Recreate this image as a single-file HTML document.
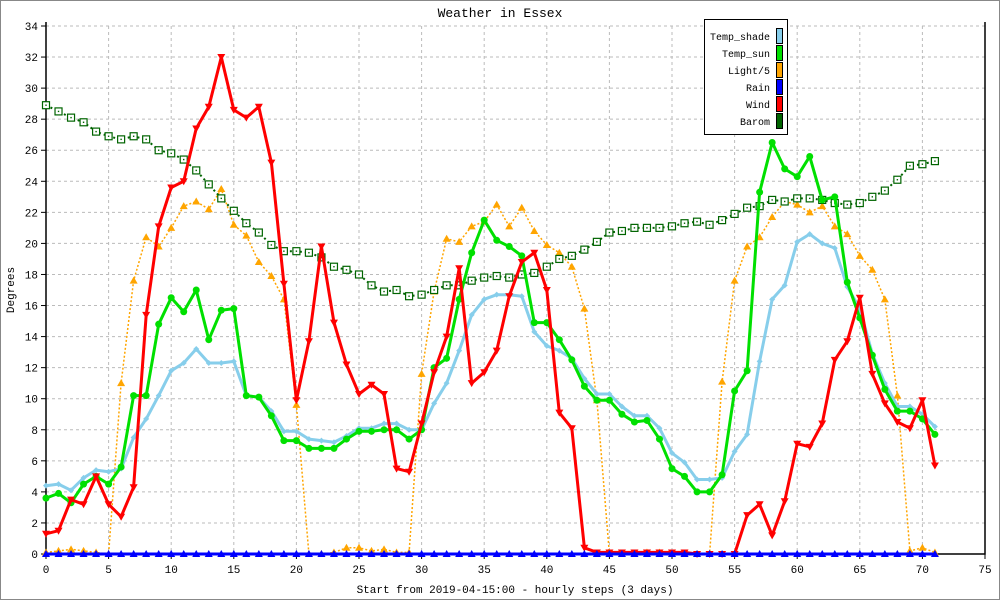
<!DOCTYPE html>
<html><head><meta charset="utf-8"><style>
html,body{margin:0;padding:0;background:#fff}
svg{display:block;font-family:"Liberation Mono",monospace}
</style></head><body>
<svg id="chart" width="1000" height="600" viewBox="0 0 1000 600">
<rect x="0.5" y="0.5" width="999" height="599" fill="#fff" stroke="#888"/>
<text x="500" y="17" text-anchor="middle" font-size="13">Weather in Essex</text>
<g id="grid"></g>
<g id="axes"></g>
<g id="series"></g>
<text x="14" y="290" text-anchor="middle" font-size="11" transform="rotate(-90 14 290)">Degrees</text>
<text x="515" y="593" text-anchor="middle" font-size="11">Start from 2019-04-15:00 - hourly steps (3 days)</text>
<g id="legend"></g>
</svg>
<script>
const xTicks=[0,5,10,15,20,25,30,35,40,45,50,55,60,65,70,75];
const yTicks=[0,2,4,6,8,10,12,14,16,18,20,22,24,26,28,30,32,34];
const tempShade=[4.4,4.5,4.1,4.9,5.4,5.3,5.5,7.5,8.7,10.2,11.8,12.3,13.2,12.3,12.3,12.4,10.2,10.1,9.2,7.9,7.9,7.4,7.3,7.2,7.6,8.1,8.1,8.4,8.4,8.0,8.0,9.7,11.0,13.1,15.4,16.4,16.7,16.7,16.6,14.3,13.4,13.1,12.6,11.3,10.3,10.3,9.5,8.9,8.9,8.1,6.5,5.9,4.8,4.8,4.9,6.6,7.7,12.4,16.4,17.3,20.1,20.6,20.0,19.7,17.2,15.8,12.9,11.0,9.5,9.5,9.0,8.2];
const tempSun=[3.6,3.9,3.3,4.5,5.0,4.5,5.6,10.2,10.2,14.8,16.5,15.6,17.0,13.8,15.7,15.8,10.2,10.1,8.9,7.3,7.3,6.8,6.8,6.8,7.4,7.9,7.9,8.0,8.0,7.4,8.0,12.0,12.6,16.4,19.4,21.5,20.2,19.8,19.2,14.9,14.9,13.8,12.5,10.8,9.9,9.9,9.0,8.5,8.6,7.4,5.5,5.0,4.0,4.0,5.1,10.5,11.8,23.3,26.5,24.8,24.3,25.6,22.8,23.0,17.5,15.2,12.8,10.6,9.2,9.2,8.7,7.7];
const light=[0.1,0.2,0.3,0.2,0.1,0,11.0,17.6,20.4,19.8,21.0,22.4,22.7,22.2,23.5,21.2,20.5,18.8,17.9,16.4,9.6,0,0,0.1,0.4,0.4,0.2,0.3,0.1,0.1,11.6,16.9,20.3,20.1,21.1,21.4,22.5,21.1,22.3,20.8,19.9,19.4,18.5,15.8,9.9,0,0,0,0.1,0.1,0,0,0,0,11.1,17.6,19.8,20.4,21.7,22.7,22.5,22.0,22.4,21.1,20.6,19.2,18.3,16.4,10.2,0.2,0.4,0.1];
const rain=new Array(72).fill(0);
const wind=[1.3,1.5,3.5,3.2,5.0,3.2,2.4,4.3,15.4,21.1,23.6,24.0,27.4,28.8,32.0,28.6,28.1,28.8,25.2,17.4,9.9,13.7,19.8,14.9,12.2,10.3,10.9,10.3,5.5,5.3,8.4,11.7,14.0,18.4,11.0,11.7,13.1,16.6,18.8,19.4,17.0,9.1,8.1,0.4,0.1,0.1,0.1,0.1,0.1,0.1,0.1,0.1,0,0,0,0,2.5,3.2,1.2,3.4,7.1,6.9,8.4,12.5,13.7,16.5,11.6,9.7,8.5,8.1,9.9,5.7];
const barom=[28.9,28.5,28.1,27.8,27.2,26.9,26.7,26.9,26.7,26.0,25.8,25.4,24.7,23.8,22.9,22.1,21.3,20.7,19.9,19.5,19.5,19.4,19.1,18.5,18.3,18.0,17.3,16.9,17.0,16.6,16.7,17.0,17.3,17.3,17.6,17.8,17.9,17.8,18.0,18.1,18.5,19.0,19.2,19.6,20.1,20.7,20.8,21.0,21.0,21.0,21.1,21.3,21.4,21.2,21.5,21.9,22.3,22.4,22.8,22.7,22.9,22.9,22.8,22.6,22.5,22.6,23.0,23.4,24.1,25.0,25.1,25.3];
const legendLabels=["Temp_shade","Temp_sun","Light/5","Rain","Wind","Barom"];

const NS="http://www.w3.org/2000/svg";
const X0=46,X1=985,Y0=554,Y1=26;
const xs=v=>X0+(X1-X0)*v/75;
const ys=v=>Y0-(Y0-Y1)*v/34;
function mk(tag,attrs,parent){const e=document.createElementNS(NS,tag);for(const k in attrs)e.setAttribute(k,attrs[k]);parent.appendChild(e);return e;}
const grid=document.getElementById('grid'),axes=document.getElementById('axes'),ser=document.getElementById('series'),leg=document.getElementById('legend');
xTicks.forEach(t=>{
 if(t>0&&t<75){const l=mk('line',{x1:xs(t),x2:xs(t),y1:Y1,y2:Y0,stroke:'#bbb','stroke-dasharray':'3,3'},grid);
 
 }
 const tk=mk('line',{x1:xs(t),x2:xs(t),y1:Y0,y2:Y0+5,stroke:'#000'},axes);
 
 
 const tx=mk('text',{x:xs(t),y:Y0+19,'text-anchor':'middle','font-size':11},axes);tx.textContent=t;
 
 
});
yTicks.forEach(t=>{
 if(t>0){const l=mk('line',{x1:X0,x2:X1,y1:ys(t),y2:ys(t),stroke:'#bbb','stroke-dasharray':'3,3'},grid);
 
 }
 const tk=mk('line',{x1:X0-5,x2:X0,y1:ys(t),y2:ys(t),stroke:'#000'},axes);
 
 
 const tx=mk('text',{x:X0-8,y:ys(t)+4,'text-anchor':'end','font-size':11},axes);tx.textContent=t;
 
 
});
const ax=mk('path',{d:`M${X0},${Y1-4}V${Y0}H${X1}V${Y1-4}`,fill:'none',stroke:'#000','stroke-width':1.5},axes);



function series(data,name,color,width,dash,marker,mcolor){
 const g=mk('g',{},ser);
 
 
 const pts=data.map((v,i)=>xs(i).toFixed(1)+','+ys(v).toFixed(1)).join(' ');
 const pl=mk('polyline',{points:pts,fill:'none',stroke:color,'stroke-width':width,'stroke-linejoin':'round'},g);
 if(dash)pl.setAttribute('stroke-dasharray',dash);
 
 
 data.forEach((v,i)=>{
  const x=xs(i),y=ys(v);let m;
  if(marker==='circle')m=mk('circle',{cx:x,cy:y,r:3.5,fill:mcolor},g);
  else if(marker==='diamond')m=mk('path',{d:`M${x},${y-3}L${x+3},${y}L${x},${y+3}L${x-3},${y}Z`,fill:mcolor},g);
  else if(marker==='up')m=mk('path',{d:`M${x},${y-4}L${x+4},${y+3}L${x-4},${y+3}Z`,fill:mcolor},g);
  else if(marker==='down')m=mk('path',{d:`M${x},${y+4}L${x+4},${y-3}L${x-4},${y-3}Z`,fill:mcolor},g);
  else {m=mk('rect',{x:x-3.5,y:y-3.5,width:7,height:7,fill:'#fff',stroke:mcolor,'stroke-width':1.2},g);mk('rect',{x:x-0.7,y:y-0.7,width:1.4,height:1.4,fill:mcolor},g);}
  
  
 });
}
series(light,'light-series','#ffa500',1.5,'2,2','up','#ffa500');
series(barom,'barom-series','#006400',2,'2,3','square','#006400');
series(tempShade,'temp-shade-series','#87ceeb',3,null,'diamond','#87ceeb');
series(tempSun,'temp-sun-series','#00e000',3,null,'circle','#00e000');
series(wind,'wind-series','#ff0000',3,null,'down','#ff0000');
series(rain,'rain-series','#0000ff',3,null,'up','#0000ff');

const colors=['#87ceeb','#00e000','#ffa500','#0000ff','#ff0000','#006400'];
const lb=mk('rect',{x:704.5,y:19.5,width:83,height:115,fill:'#fff',stroke:'#000'},leg);


legendLabels.forEach((s,i)=>{
 const y=36+i*17;
 const t=mk('text',{x:770,y:y+4,'text-anchor':'end','font-size':10},leg);t.textContent=s;
 
 
 const r=mk('rect',{x:776.5,y:y-7.5,width:6,height:15,fill:colors[i],stroke:'#000'},leg);
 
 
});
</script>
</body></html>
